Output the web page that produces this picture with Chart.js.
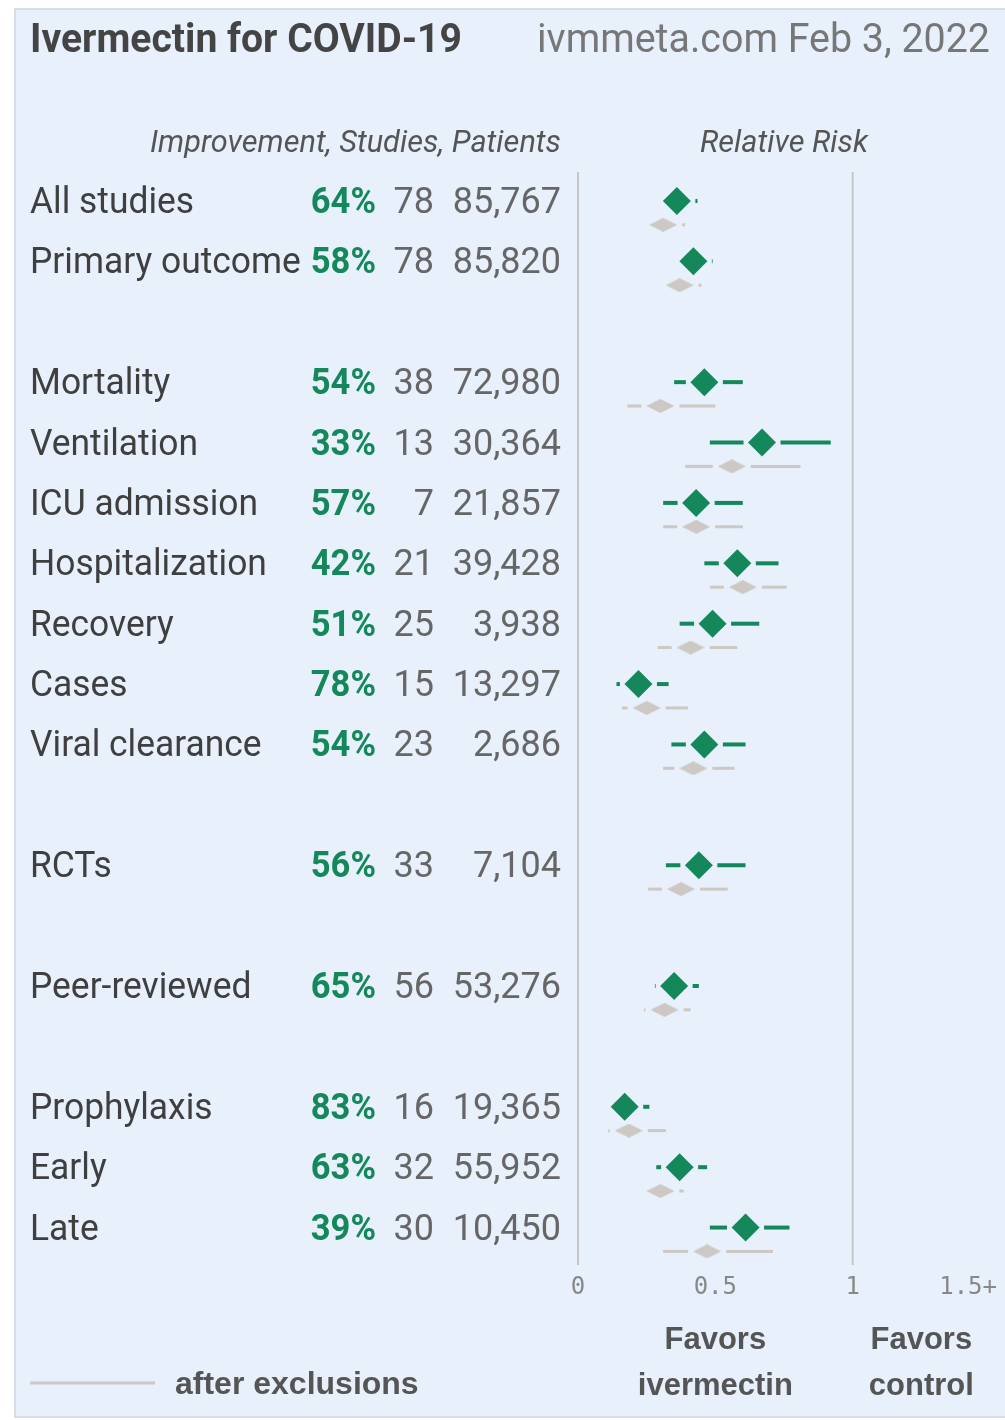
<!DOCTYPE html>
<html>
<head>
<meta charset="utf-8">
<script src="https://cdn.jsdelivr.net/npm/chart.js@4.4.1/dist/chart.umd.min.js"></script>
<style>
  html, body { margin: 0; padding: 0; background: #fff; }
  #panel {
    position: absolute; left: 14px; top: 8px; width: 1010px; height: 1406px;
    background: #e8f0fc; border: 2px solid #d7dde6;
  }
  #wrap { position: absolute; left: 0; top: 0; width: 1005px; height: 1420px; }
</style>
</head>
<body>
<div id="panel"></div>
<div id="wrap"><canvas id="forest"></canvas></div>
<script>
const categories = ['All studies', 'Primary outcome', 'Mortality', 'Ventilation', 'ICU admission',
  'Hospitalization', 'Recovery', 'Cases', 'Viral clearance', 'RCTs', 'Peer-reviewed',
  'Prophylaxis', 'Early', 'Late'];
const slots = [0, 1, 3, 4, 5, 6, 7, 8, 9, 11, 13, 15, 16, 17];
const improvement = [64, 58, 54, 33, 57, 42, 51, 78, 54, 56, 65, 83, 63, 39];
const studies = [78, 78, 38, 13, 7, 21, 25, 15, 23, 33, 56, 16, 32, 30];
const patients = [85767, 85820, 72980, 30364, 21857, 39428, 3938, 13297, 2686, 7104, 53276, 19365, 55952, 10450];

// relative risk, all studies
const rr     = [0.36, 0.42, 0.46, 0.67, 0.43, 0.58, 0.49, 0.22, 0.46, 0.44, 0.35, 0.17, 0.37, 0.61];
const rrLow  = [0.30, 0.36, 0.35, 0.48, 0.31, 0.46, 0.37, 0.14, 0.34, 0.32, 0.28, 0.11, 0.285, 0.48];
const rrHigh = [0.435, 0.49, 0.60, 0.92, 0.60, 0.73, 0.66, 0.33, 0.61, 0.61, 0.44, 0.26, 0.47, 0.77];

// relative risk after exclusions
const exRR   = [0.31, 0.37, 0.30, 0.56, 0.43, 0.60, 0.41, 0.25, 0.42, 0.375, 0.315, 0.185, 0.30, 0.47];
const exLow  = [0.26, 0.30, 0.18, 0.39, 0.31, 0.48, 0.29, 0.16, 0.31, 0.255, 0.24, 0.11, 0.25, 0.31];
const exHigh = [0.39, 0.45, 0.50, 0.81, 0.60, 0.76, 0.58, 0.40, 0.57, 0.545, 0.41, 0.32, 0.385, 0.71];

const xTicks = [0, 0.5, 1, 1.5];
const xTickLabels = ['0', '0.5', '1', '1.5+'];

const GREEN = '#14885a';
const GREY = '#cdc8c3';
const EX_OFFSET = 0.395;

// flattened diamond for the "after exclusions" marks
const greyDiamond = document.createElement('canvas');
greyDiamond.width = 28;
greyDiamond.height = 14;
(function () {
  const g = greyDiamond.getContext('2d');
  g.fillStyle = GREY;
  g.beginPath();
  g.moveTo(0, 7); g.lineTo(14, 0); g.lineTo(28, 7); g.lineTo(14, 14);
  g.closePath();
  g.fill();
})();

// squeeze: factor of natural width; fitW: fixed target width
function txt(ctx, s, x, y, font, color, align, squeeze, fitW) {
  ctx.font = font;
  ctx.fillStyle = color;
  ctx.textAlign = align || 'left';
  ctx.textBaseline = 'alphabetic';
  if (fitW) ctx.fillText(s, x, y, fitW);
  else if (squeeze) ctx.fillText(s, x, y, ctx.measureText(s).width * squeeze);
  else ctx.fillText(s, x, y);
}

const forestPlugin = {
  id: 'forest',
  beforeDatasetsDraw(chart) {
    const ctx = chart.ctx;
    const xs = chart.scales.x, ys = chart.scales.y;
    const area = chart.chartArea;
    ctx.save();
    // reference lines at 0 and 1
    ctx.strokeStyle = '#c6c6c6';
    ctx.lineWidth = 2;
    [0, 1].forEach(v => {
      const px = xs.getPixelForValue(v);
      ctx.beginPath();
      ctx.moveTo(px, area.top);
      ctx.lineTo(px, area.bottom);
      ctx.stroke();
    });
    // confidence intervals, broken around the diamond
    const seg = (lo, mid, hi, y, half, color, w) => {
      const a = xs.getPixelForValue(lo), c = xs.getPixelForValue(mid), b = xs.getPixelForValue(hi);
      ctx.strokeStyle = color;
      ctx.lineWidth = w;
      ctx.lineCap = 'butt';
      if (c - half - a > 0.5) { ctx.beginPath(); ctx.moveTo(a, y); ctx.lineTo(c - half, y); ctx.stroke(); }
      if (b - (c + half) > 0.5) { ctx.beginPath(); ctx.moveTo(c + half, y); ctx.lineTo(b, y); ctx.stroke(); }
    };
    slots.forEach((s, i) => {
      seg(rrLow[i], rr[i], rrHigh[i], ys.getPixelForValue(s), 18.5, GREEN, 4);
      seg(exLow[i], exRR[i], exHigh[i], ys.getPixelForValue(s + EX_OFFSET), 19, GREY, 3);
    });
    ctx.restore();
  },
  afterDraw(chart) {
    const ctx = chart.ctx;
    const xs = chart.scales.x, ys = chart.scales.y;
    ctx.save();
    // titles
    txt(ctx, 'Ivermectin for COVID-19', 30, 52, 'bold 40px Roboto', '#444', 'left', null, 432);
    txt(ctx, 'ivmmeta.com Feb 3, 2022', 990, 52, '40px Roboto', '#777', 'right', null, 453);
    txt(ctx, 'Improvement, Studies, Patients', 561, 152, 'italic 32px Roboto', '#555', 'right', null, 411);
    txt(ctx, 'Relative Risk', 784, 152, 'italic 32px Roboto', '#555', 'center', null, 168);
    // row labels and numbers
    slots.forEach((s, i) => {
      const y = ys.getPixelForValue(s) + 12;
      txt(ctx, categories[i], 30, y, '36px Roboto', '#3f3f3f', 'left', 0.983);
      txt(ctx, improvement[i] + '%', 376, y, 'bold 36px Roboto', GREEN, 'right', 0.96);
      txt(ctx, String(studies[i]), 434, y, '36px Roboto', '#666', 'right');
      txt(ctx, patients[i].toLocaleString('en-US'), 561, y, '36px Roboto', '#666', 'right');
    });
    // x tick labels
    xTicks.forEach((v, i) => {
      const last = i === xTicks.length - 1;
      const px = xs.getPixelForValue(v) + (last ? 7 : 0);
      txt(ctx, xTickLabels[i], px, 1294, '24px "DejaVu Sans Mono"', '#888', last ? 'right' : 'center');
    });
    // favors
    const fav = xs.getPixelForValue(0.5), ctl = xs.getPixelForValue(1.25);
    txt(ctx, 'Favors', fav, 1349, 'bold 31px "Liberation Sans"', '#555', 'center');
    txt(ctx, 'ivermectin', fav, 1395, 'bold 31px "Liberation Sans"', '#555', 'center');
    txt(ctx, 'Favors', ctl, 1349, 'bold 31px "Liberation Sans"', '#555', 'center');
    txt(ctx, 'control', ctl, 1395, 'bold 31px "Liberation Sans"', '#555', 'center');
    // legend
    ctx.strokeStyle = '#c9c9c9';
    ctx.lineWidth = 3;
    ctx.beginPath();
    ctx.moveTo(30, 1383);
    ctx.lineTo(155, 1383);
    ctx.stroke();
    txt(ctx, 'after exclusions', 175, 1394, 'bold 32px "Liberation Sans"', '#555', 'left');
    ctx.restore();
  }
};

new Chart(document.getElementById('forest').getContext('2d'), {
  type: 'scatter',
  data: {
    datasets: [
      {
        label: 'after exclusions',
        data: slots.map((s, i) => ({ x: exRR[i], y: s + EX_OFFSET })),
        pointStyle: greyDiamond,
        pointRadius: 14
      },
      {
        label: 'all studies',
        data: slots.map((s, i) => ({ x: rr[i], y: s })),
        pointStyle: 'rectRot',
        pointRadius: 14,
        pointBackgroundColor: GREEN,
        pointBorderWidth: 0
      }
    ]
  },
  options: {
    responsive: true,
    maintainAspectRatio: false,
    animation: false,
    events: [],
    layout: { padding: { left: 578, right: 14, top: 172, bottom: 155 } },
    scales: {
      x: { type: 'linear', min: 0, max: 1.5, display: false },
      y: { type: 'linear', min: -0.48, max: 17.62, reverse: true, display: false }
    },
    plugins: {
      legend: { display: false },
      tooltip: { enabled: false }
    }
  },
  plugins: [forestPlugin]
});
</script>
</body>
</html>
